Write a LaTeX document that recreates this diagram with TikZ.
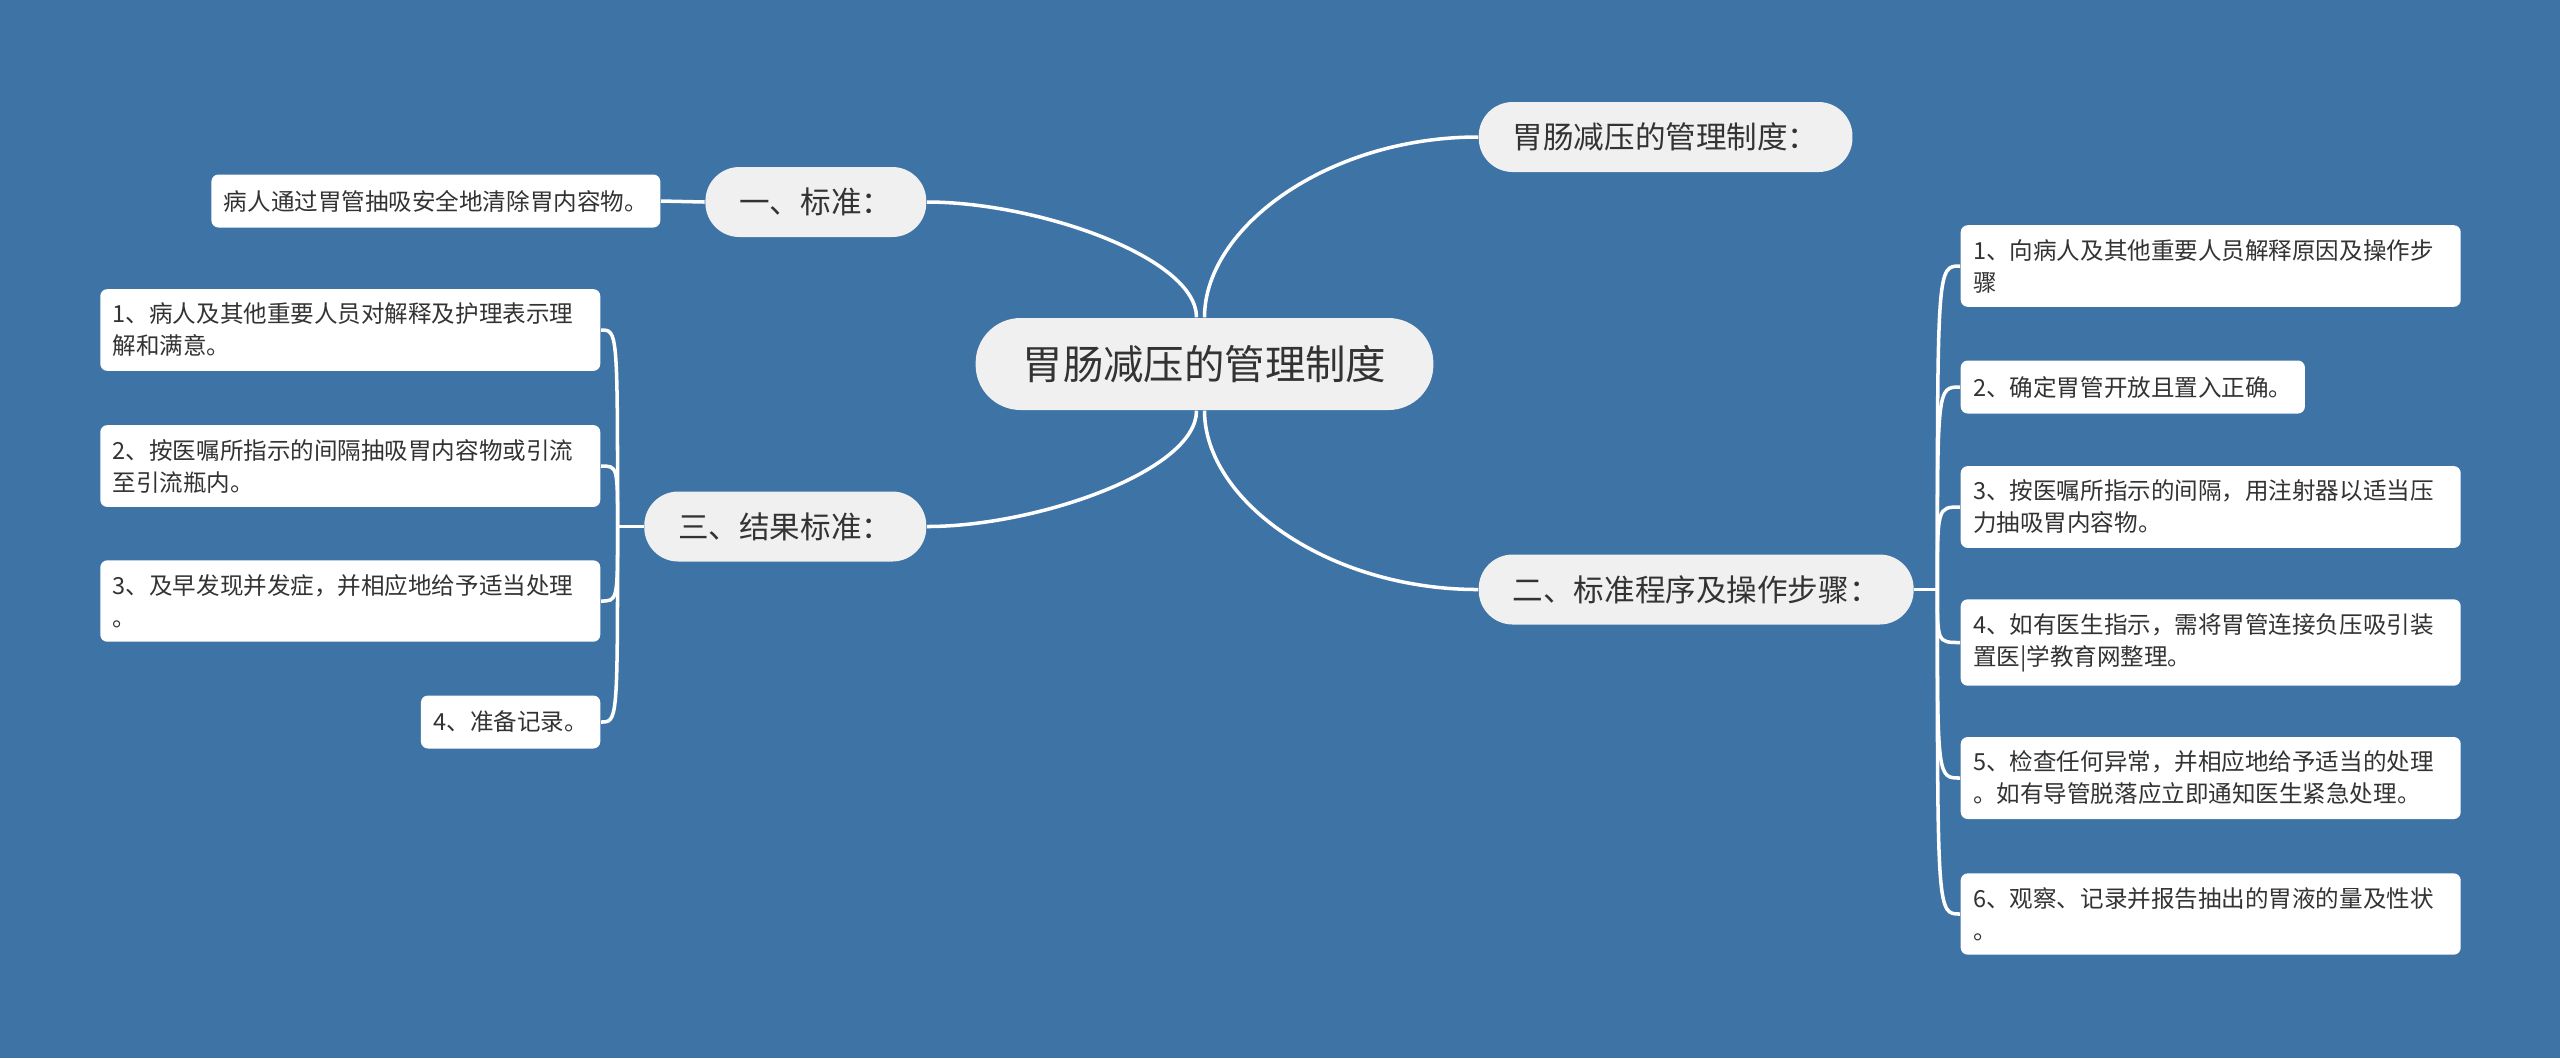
\documentclass[tikz,border=0pt]{standalone}
\usepackage{fontspec}
\setmainfont{Noto Sans CJK SC}
\usetikzlibrary{calc}

\definecolor{bgblue}{RGB}{62,115,165}
\definecolor{pillgray}{RGB}{240,240,240}
\definecolor{inkgray}{RGB}{51,51,51}

\tikzset{
  root/.style={fill=pillgray, text=inkgray, rounded corners=0.45cm,
    minimum height=0.92cm, inner xsep=0.47cm, inner ysep=0pt,
    font=\fontsize{11.5}{14}\selectfont},
  topic/.style={fill=pillgray, text=inkgray, rounded corners=0.34cm,
    minimum height=0.7cm, inner xsep=0.34cm, inner ysep=0pt,
    font=\fontsize{8.7}{11}\selectfont},
  leaf/.style={fill=white, text=inkgray, rounded corners=0.07cm,
    minimum height=0.53cm, inner xsep=0.125cm, inner ysep=0.14cm,
    align=left, font=\fontsize{6.7}{9.1}\selectfont},
  twoline/.style={text width=4.75cm},
  link/.style={draw=white, line width=1pt},
}

\begin{document}
\begin{tikzpicture}
    % Background
    \fill[bgblue] (0,0) rectangle (25.6,-10.58);
    \useasboundingbox (0,0) rectangle (25.6,-10.58);

    % Central topic
    \node[root] (root) at (12.045,-3.64) {胃肠减压的管理制度};

    % Main branches
    \node[topic, anchor=west] (rule) at (14.78,-1.37) {胃肠减压的管理制度：};
    \node[topic, anchor=west] (proc) at (14.78,-5.895) {二、标准程序及操作步骤：};
    \node[topic, anchor=east] (std) at (9.27,-2.02) {一、标准：};
    \node[topic, anchor=east] (res) at (9.27,-5.265) {三、结果标准：};

    % Curves from the root
    \draw[link] ([xshift=-0.08cm]root.north) .. controls +(0,0.6) and +(1.1,0) .. (std.east);
    \draw[link] (root.north) .. controls +(0,0.9) and +(-1.5,0) .. (rule.west);
    \draw[link] ([xshift=-0.08cm]root.south) .. controls +(0,-0.6) and +(1.1,0) .. (res.east);
    \draw[link] (root.south) .. controls +(0,-0.9) and +(-1.5,0) .. (proc.west);

    % Branch one
    \node[leaf, anchor=east] (std1) at (6.61,-2.01) {病人通过胃管抽吸安全地清除胃内容物。};
    \draw[link] (std.west) -- (std1.east);

    % Branch three
    \node[leaf, twoline, anchor=east] (res1) at (6.01,-3.30) {1、病人及其他重要人员对解释及护理表示理\\解和满意。};
    \node[leaf, twoline, anchor=east] (res2) at (6.01,-4.66) {2、按医嘱所指示的间隔抽吸胃内容物或引流\\至引流瓶内。};
    \node[leaf, twoline, anchor=east] (res3) at (6.01,-6.01) {3、及早发现并发症，并相应地给予适当处理\\。};
    \node[leaf, anchor=east] (res4) at (6.01,-7.22) {4、准备记录。};
    \coordinate (resfork) at ($(res.west)+(-0.26,0)$);
    \draw[link] (res.west) -- (resfork);
    \foreach \n in {res1,res2,res3,res4}
        \draw[link] (resfork) .. controls (resfork |- \n.east) .. (\n.east);

    % Branch two
    \node[leaf, twoline, anchor=west] (proc1) at (19.60,-2.66) {1、向病人及其他重要人员解释原因及操作步\\骤};
    \node[leaf, anchor=west] (proc2) at (19.60,-3.87) {2、确定胃管开放且置入正确。};
    \node[leaf, twoline, anchor=west] (proc3) at (19.60,-5.07) {3、按医嘱所指示的间隔，用注射器以适当压\\力抽吸胃内容物。};
    \node[leaf, twoline, anchor=west] (proc4) at (19.60,-6.425) {4、如有医生指示，需将胃管连接负压吸引装\\置医|学教育网整理。};
    \node[leaf, twoline, anchor=west] (proc5) at (19.60,-7.78) {5、检查任何异常，并相应地给予适当的处理\\。如有导管脱落应立即通知医生紧急处理。};
    \node[leaf, twoline, anchor=west] (proc6) at (19.60,-9.14) {6、观察、记录并报告抽出的胃液的量及性状\\。};
    \coordinate (procfork) at ($(proc.east)+(0.23,0)$);
    \draw[link] (proc.east) -- (procfork);
    \foreach \n in {proc1,proc2,proc3,proc4,proc5,proc6}
        \draw[link] (procfork) .. controls (procfork |- \n.east) .. (\n.west);
\end{tikzpicture}
\end{document}
